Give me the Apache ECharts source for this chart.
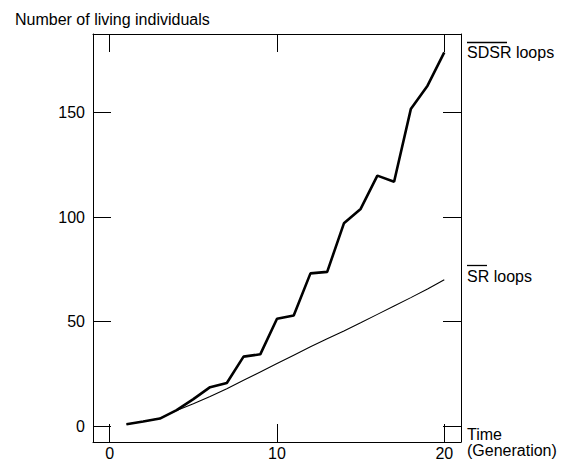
<!DOCTYPE html>
<html>
<head>
<meta charset="utf-8">
<script src="https://cdn.jsdelivr.net/npm/echarts@6/dist/echarts.min.js"></script>
<style>
html,body{margin:0;padding:0;background:#fff;}
#chart{width:568px;height:467px;}
</style>
</head>
<body>
<div id="chart"></div>
<script>
const generations = [1,2,3,4,5,6,7,8,9,10,11,12,13,14,15,16,17,18,19,20];
const sdsrLoops = [1.0, 2.3, 3.7, 7.7, 13.0, 18.7, 20.7, 33.3, 34.4, 51.4, 53.0, 73.1, 73.8, 97.0, 103.9, 119.8, 116.9, 151.6, 162.8, 178.7];
const srLoops = [1.0, 2.3, 3.8, 7.6, 10.8, 14.3, 18.0, 22.0, 26.0, 30.0, 34.0, 38.0, 41.8, 45.6, 49.5, 53.5, 57.5, 61.5, 65.6, 70.0];
const xTicks = [0, 10, 20];
const yTicks = [0, 50, 100, 150];
const seriesNames = ['SDSR loops', 'SR loops'];
const overlined = ['SDSR', 'SR'];

const FONT = '"Liberation Sans", Arial, Helvetica, sans-serif';
const FS = 16;
const chart = echarts.init(document.getElementById('chart'), null, {renderer: 'svg'});

function pairs(xs, ys) { return xs.map((x, i) => [x, ys[i]]); }

const tickStyle = {show: true, inside: true, length: 18, lineStyle: {color: '#000', width: 1}};
const lineStyle = {show: true, onZero: false, lineStyle: {color: '#000', width: 1}};

chart.setOption({
  animation: false,
  backgroundColor: '#fff',
  title: {
    text: 'Number of living individuals',
    left: 10, top: 6,
    textStyle: {fontFamily: FONT, fontSize: FS, fontWeight: 'normal', color: '#000'}
  },
  grid: {left: 93, right: 107, top: 34, bottom: 25, containLabel: false},
  xAxis: [
    {type: 'value', position: 'bottom', min: -1, max: 21,
     name: 'Time\n(Generation)', nameLocation: 'end', nameGap: 6,
     nameTextStyle: {fontFamily: FONT, fontSize: FS, color: '#000', align: 'left', verticalAlign: 'middle', lineHeight: 16, padding: [4, 0, 0, 0]},
     axisLine: lineStyle,
     axisTick: Object.assign({customValues: xTicks}, tickStyle),
     axisLabel: {customValues: xTicks, fontFamily: FONT, fontSize: FS, color: '#000', margin: 3},
     splitLine: {show: false}},
    {type: 'value', position: 'top', min: -1, max: 21,
     axisLine: lineStyle,
     axisTick: Object.assign({customValues: xTicks}, tickStyle),
     axisLabel: {show: false},
     splitLine: {show: false}}
  ],
  yAxis: [
    {type: 'value', position: 'left', min: -7.5, max: 187.5,
     axisLine: lineStyle,
     axisTick: Object.assign({customValues: yTicks}, tickStyle),
     axisLabel: {customValues: yTicks, fontFamily: FONT, fontSize: FS, color: '#000', margin: 8},
     splitLine: {show: false}},
    {type: 'value', position: 'right', min: -7.5, max: 187.5,
     axisLine: lineStyle,
     axisTick: Object.assign({customValues: yTicks}, tickStyle),
     axisLabel: {show: false},
     splitLine: {show: false}}
  ],
  series: [
    {name: seriesNames[0], type: 'line', data: pairs(generations, sdsrLoops), showSymbol: false, symbol: 'none',
     lineStyle: {color: '#000', width: 2.6}, z: 3},
    {name: seriesNames[1], type: 'line', data: pairs(generations, srLoops), showSymbol: false, symbol: 'none',
     lineStyle: {color: '#000', width: 1.1}, z: 2}
  ]
});

// Series labels at the right of the plot, with overline on the first word
const ctx = document.createElement('canvas').getContext('2d');
ctx.font = FS + 'px ' + FONT;
const xRight = chart.convertToPixel({xAxisIndex: 0}, 21);
const series = [sdsrLoops, srLoops];
const labelShift = [0, -3];
const overOffsets = [-10, -12];
const graphics = [];
series.forEach((vals, i) => {
  const yEnd = chart.convertToPixel({yAxisIndex: 0}, vals[vals.length - 1]);
  const tx = xRight + 6;
  const ty = yEnd + labelShift[i];
  graphics.push({type: 'text', x: tx, y: ty,
    style: {text: seriesNames[i], fill: '#000', font: FS + 'px ' + FONT, textAlign: 'left', textVerticalAlign: 'middle'}});
  const w = ctx.measureText(overlined[i]).width * 0.9;
  const oy = Math.round(ty + overOffsets[i]) + 0.5;
  graphics.push({type: 'line', shape: {x1: tx, y1: oy, x2: tx + w, y2: oy},
    style: {stroke: '#000', lineWidth: 1.3}});
});
chart.setOption({graphic: graphics});
</script>
</body>
</html>
